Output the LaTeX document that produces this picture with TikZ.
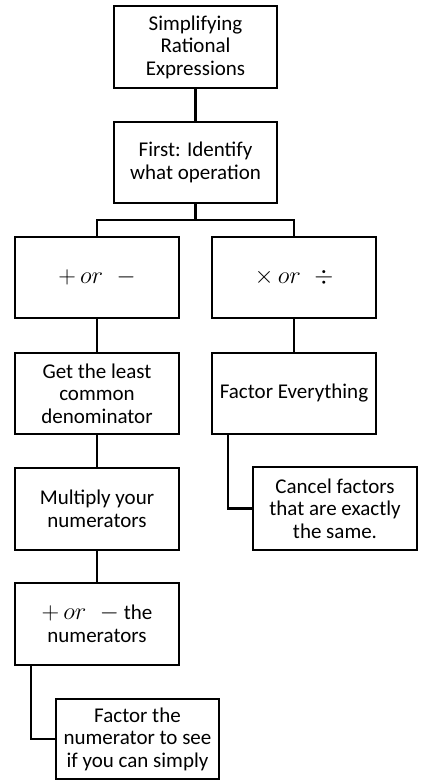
\documentclass[tikz,border=0pt]{standalone}
\usepackage{fontspec}
\setmainfont{Carlito}
\usetikzlibrary{calc}
\begin{document}
\begin{tikzpicture}[x=1pt,y=-1pt,
  box/.style={draw,line width=2.3pt,inner sep=0pt,align=center,
    font=\fontsize{21}{22.5}\selectfont},
  wire/.style={line width=2.3pt}]
\useasboundingbox (0,0) rectangle (420,781);
\node[box,minimum width=163,minimum height=82] (n1) at (195.5,47) {Simplifying\\Rational\\Expressions};
\node[box,minimum width=163,minimum height=81] (n2) at (195.5,162.5) {First: Identify\\what operation};
\node[box,minimum width=164,minimum height=81] (n3) at (97,277.5) {\raisebox{3pt}{\scalebox{1.18}{$+\,or\;\;-$}}};
\node[box,minimum width=164,minimum height=81] (n4) at (294,277.5) {\raisebox{3pt}{\scalebox{1.18}{$\times\,or\;\;\div$}}};
\node[box,minimum width=164,minimum height=81] (n5) at (97,393.5) {Get the least\\common\\denominator};
\node[box,minimum width=164,minimum height=81] (n6) at (294,393.5) {Factor Everything};
\node[box,minimum width=164,minimum height=82] (n7) at (97,509) {Multiply your\\numerators};
\node[box,minimum width=164,minimum height=83] (n8) at (335,508.5) {Cancel factors\\that are exactly\\the same.};
\node[box,minimum width=164,minimum height=82] (n9) at (97,624) {\scalebox{1.18}{$+\,or\;\;-$} the\\numerators};
\node[box,minimum width=163,minimum height=80] (n10) at (137.5,739) {Factor the\\numerator to see\\if you can simply};
\coordinate (j1) at (195.5,220);
\draw[wire] (n1.south) -- (n2.north);
\draw[wire] (n2.south) -- (j1);
\draw[wire] (n3.north) |- (j1) -| (n4.north);
\draw[wire] (n3.south) -- (n5.north);
\draw[wire] (n4.south) -- (n6.north);
\draw[wire] (n5.south) -- (n7.north);
\draw[wire] (n7.south) -- (n9.north);
\draw[wire] ($(n6.south west)+(17,0)$) |- (n8.west);
\draw[wire] ($(n9.south west)+(17,0)$) |- (n10.west);
\end{tikzpicture}
\end{document}
